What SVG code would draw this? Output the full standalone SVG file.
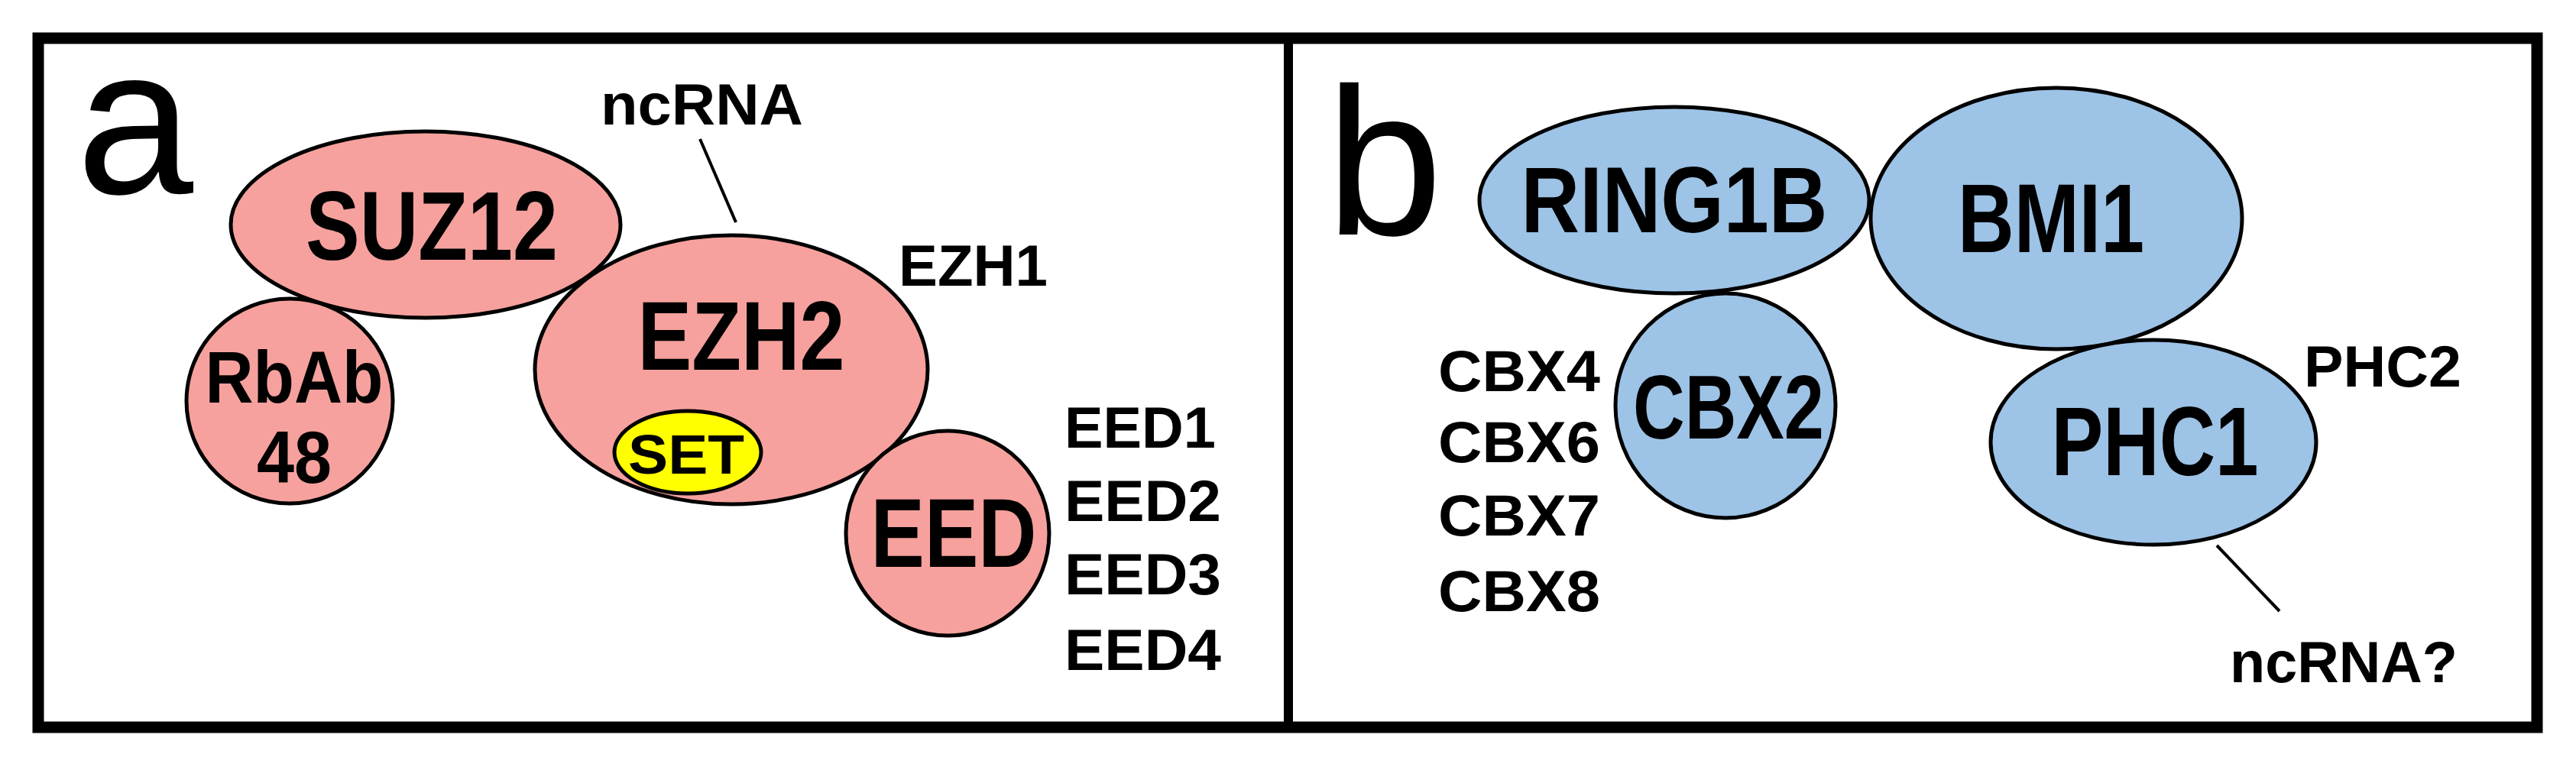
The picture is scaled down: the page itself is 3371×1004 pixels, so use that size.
<svg xmlns="http://www.w3.org/2000/svg" width="3371" height="1004" viewBox="0 0 3371 1004">
<style>
.f{font-family:"Liberation Sans",Arial,sans-serif;fill:#000}
.b{font-weight:bold;text-anchor:middle}
.s{font-size:76px;font-weight:bold}
.pk{fill:#f6a19d;stroke:#000;stroke-width:5}
.bl{fill:#9dc3e6;stroke:#000;stroke-width:5}
</style>
<rect x="0" y="0" width="3371" height="1004" fill="#fff"/>
<rect x="50" y="50" width="3270" height="902" fill="none" stroke="#000" stroke-width="15"/>
<line x1="1686" y1="50" x2="1686" y2="952" stroke="#000" stroke-width="12"/>
<text class="f" x="100" y="253" font-size="275">a</text>
<text class="f" x="1735" y="307" font-size="275">b</text>
<g id="connectors" stroke="#000" stroke-width="4">
<line x1="916" y1="182" x2="963" y2="291"/>
<line x1="2901" y1="714" x2="2983" y2="800"/>
</g>
<g id="SUZ12"><ellipse class="pk" cx="557" cy="294" rx="255" ry="122"/><text class="f b" x="565" y="340" font-size="128" textLength="330" lengthAdjust="spacingAndGlyphs">SUZ12</text></g>
<g id="RbAb48"><ellipse class="pk" cx="379" cy="525" rx="135" ry="134"/><text class="f b" x="385" y="527" font-size="96" textLength="233" lengthAdjust="spacingAndGlyphs">RbAb</text><text class="f b" x="385" y="632" font-size="96" textLength="98" lengthAdjust="spacingAndGlyphs">48</text></g>
<g id="EZH2"><ellipse class="pk" cx="957" cy="484" rx="257" ry="176"/><text class="f b" x="970" y="484" font-size="128" textLength="271" lengthAdjust="spacingAndGlyphs">EZH2</text></g>
<g id="SET"><ellipse cx="900" cy="592" rx="96" ry="54" fill="#ffff00" stroke="#000" stroke-width="5"/><text class="f b" x="898" y="620" font-size="72" textLength="152" lengthAdjust="spacingAndGlyphs">SET</text></g>
<g id="EED"><ellipse class="pk" cx="1240" cy="698" rx="133" ry="134"/><text class="f b" x="1248" y="742" font-size="128" textLength="217" lengthAdjust="spacingAndGlyphs">EED</text></g>
<g id="labels-a">
<text class="f s" x="786" y="163" textLength="265" lengthAdjust="spacingAndGlyphs">ncRNA</text>
<text class="f s" x="1176" y="374" textLength="195" lengthAdjust="spacingAndGlyphs">EZH1</text>
<text class="f s" x="1393" y="586" textLength="198" lengthAdjust="spacingAndGlyphs">EED1</text>
<text class="f s" x="1393" y="682" textLength="205" lengthAdjust="spacingAndGlyphs">EED2</text>
<text class="f s" x="1393" y="778" textLength="205" lengthAdjust="spacingAndGlyphs">EED3</text>
<text class="f s" x="1393" y="877" textLength="205" lengthAdjust="spacingAndGlyphs">EED4</text>
</g>
<g id="RING1B"><ellipse class="bl" cx="2191" cy="262" rx="255" ry="122"/><text class="f b" x="2191" y="304" font-size="122" textLength="401" lengthAdjust="spacingAndGlyphs">RING1B</text></g>
<g id="BMI1"><ellipse class="bl" cx="2691" cy="286" rx="243" ry="171"/><text class="f b" x="2684" y="330" font-size="128" textLength="244" lengthAdjust="spacingAndGlyphs">BMI1</text></g>
<g id="CBX2"><ellipse class="bl" cx="2258" cy="531" rx="144" ry="147"/><text class="f b" x="2262" y="574" font-size="118" textLength="250" lengthAdjust="spacingAndGlyphs">CBX2</text></g>
<g id="PHC1"><ellipse class="bl" cx="2818" cy="579" rx="213" ry="134"/><text class="f b" x="2820" y="622" font-size="128" textLength="271" lengthAdjust="spacingAndGlyphs">PHC1</text></g>
<g id="labels-b">
<text class="f s" x="1882" y="512" textLength="212" lengthAdjust="spacingAndGlyphs">CBX4</text>
<text class="f s" x="1882" y="605" textLength="212" lengthAdjust="spacingAndGlyphs">CBX6</text>
<text class="f s" x="1882" y="701" textLength="212" lengthAdjust="spacingAndGlyphs">CBX7</text>
<text class="f s" x="1882" y="800" textLength="212" lengthAdjust="spacingAndGlyphs">CBX8</text>
<text class="f s" x="3015" y="506" textLength="206" lengthAdjust="spacingAndGlyphs">PHC2</text>
<text class="f s" x="2918" y="893" textLength="298" lengthAdjust="spacingAndGlyphs">ncRNA?</text>
</g>
</svg>
